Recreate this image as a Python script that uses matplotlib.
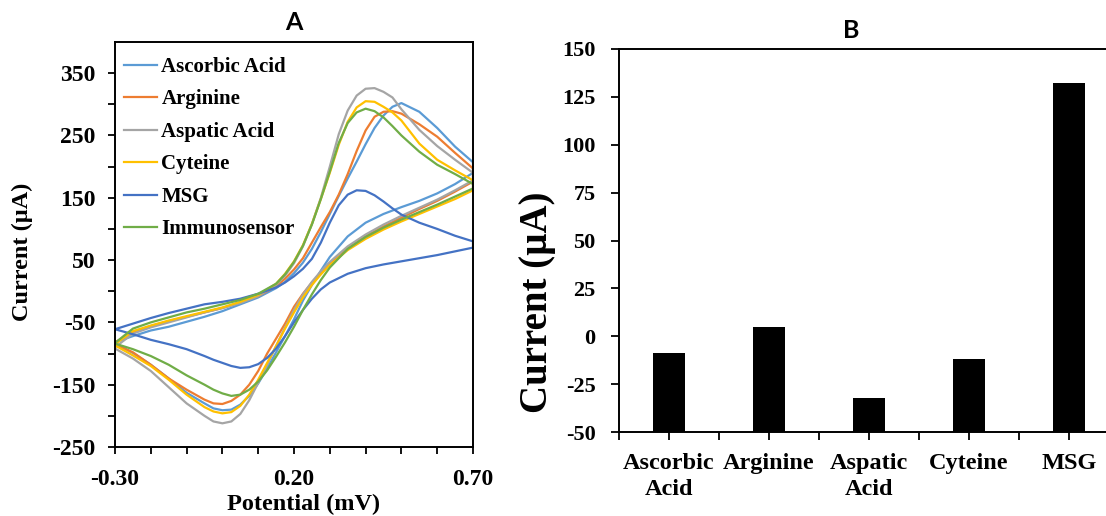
import matplotlib
matplotlib.use("Agg")
import matplotlib.pyplot as plt
from matplotlib.ticker import MultipleLocator, FixedLocator, FuncFormatter

plt.rcParams['font.family'] = ['Liberation Serif', 'DejaVu Serif']
plt.rcParams['font.weight'] = 'bold'
plt.rcParams['axes.unicode_minus'] = False

# potentials of the forward and reverse sweeps (V)
fwd_potential = [-0.30, -0.25, -0.20, -0.15, -0.10, -0.05, 0.00, 0.05, 0.10, 0.15,
                 0.175, 0.20, 0.225, 0.25, 0.275, 0.30, 0.325, 0.35, 0.375, 0.40,
                 0.425, 0.45, 0.475, 0.50, 0.55, 0.60, 0.65, 0.70]
rev_potential = [0.70, 0.65, 0.60, 0.55, 0.50, 0.45, 0.40, 0.35, 0.30, 0.275,
                 0.25, 0.225, 0.20, 0.175, 0.15, 0.125, 0.10, 0.075, 0.05, 0.025,
                 0.00, -0.025, -0.05, -0.10, -0.15, -0.20, -0.25, -0.30]

# currents (uA) for each interferent
ascorbic_fwd = [-82, -72, -63, -57, -49, -41, -32, -21, -10, 5, 15, 29, 46, 68, 95,
                124, 153, 181, 208, 236, 262, 282, 296, 302, 288, 262, 232, 207]
ascorbic_rev = [190, 172, 157, 145, 135, 124, 110, 88, 55, 33, 10, -15, -45, -72,
                -98, -124, -148, -168, -182, -190, -191, -188, -180, -163, -140,
                -118, -99, -84]
arginine_fwd = [-82, -66, -56, -48, -41, -34, -27, -18, -8, 8, 20, 35, 53, 78, 103,
                127, 155, 188, 225, 258, 280, 288, 289, 285, 268, 248, 222, 197]
arginine_rev = [176, 160, 145, 132, 118, 104, 88, 68, 44, 30, 14, -4, -25, -52, -76,
                -100, -128, -150, -166, -176, -181, -180, -174, -158, -140, -118,
                -98, -85]
aspartic_fwd = [-90, -68, -58, -50, -42, -34, -27, -19, -8, 10, 25, 45, 72, 108, 150,
                200, 252, 290, 314, 325, 326, 320, 311, 292, 259, 233, 211, 190]
aspartic_rev = [178, 162, 147, 134, 121, 107, 91, 72, 47, 32, 15, -5, -30, -58, -88,
                -118, -147, -175, -197, -209, -212, -209, -200, -180, -154, -128,
                -108, -92]
cysteine_fwd = [-85, -64, -55, -47, -40, -33, -26, -17, -6, 12, 28, 48, 74, 108, 148,
                190, 235, 272, 295, 305, 304, 296, 287, 274, 237, 211, 194, 178]
cysteine_rev = [162, 148, 136, 124, 112, 99, 84, 66, 42, 27, 10, -10, -34, -60, -88,
                -115, -142, -166, -184, -194, -196, -193, -186, -166, -142, -120,
                -103, -87]
msg_fwd = [-61, -52, -43, -35, -28, -21, -17, -12, -4, 6, 14, 24, 36, 52, 78, 110,
           138, 155, 162, 161, 154, 144, 133, 123, 110, 100, 89, 80]
msg_rev = [70, 64, 58, 53, 48, 43, 37, 28, 14, 3, -12, -30, -50, -72, -92, -107,
           -117, -122, -123, -120, -115, -110, -104, -93, -85, -78, -69, -61]
immuno_fwd = [-83, -60, -50, -42, -34, -28, -21, -14, -4, 12, 27, 47, 73, 107, 148,
              192, 238, 270, 287, 293, 289, 279, 265, 250, 224, 203, 188, 172]
immuno_rev = [165, 152, 139, 127, 115, 102, 87, 68, 38, 18, -5, -30, -57, -82, -105,
              -127, -145, -158, -166, -168, -164, -158, -150, -135, -118, -104, -93,
              -84]

cv_labels = ['Ascorbic Acid', 'Arginine', 'Aspatic Acid', 'Cyteine', 'MSG',
             'Immunosensor']
cv_colors = ['#5B9BD5', '#ED7D31', '#A5A5A5', '#FFC000', '#4472C4', '#70AD47']

# peak current change per interferent (uA)
analytes = ['Ascorbic\nAcid', 'Arginine', 'Aspatic\nAcid', 'Cyteine', 'MSG']
response = [-9, 5, -32, -12, 132]
bar_floor = -50  # bars rise from the bottom of the value axis

fig = plt.figure(figsize=(11.06, 5.16), dpi=100)

# ---- panel A: cyclic voltammograms ----
axA = fig.add_axes([115 / 1106, 69 / 516, 358 / 1106, 405 / 516])
sweeps = [(ascorbic_fwd, ascorbic_rev), (arginine_fwd, arginine_rev),
          (aspartic_fwd, aspartic_rev), (cysteine_fwd, cysteine_rev),
          (msg_fwd, msg_rev), (immuno_fwd, immuno_rev)]
potential = fwd_potential + rev_potential
for (fw, rv), lab, col in zip(sweeps, cv_labels, cv_colors):
    axA.plot(potential, fw + rv, color=col, lw=1.6, label=lab,
             solid_joinstyle='round')

axA.set_xlim(-0.30, 0.70)
axA.set_ylim(-250, 400)
axA.xaxis.set_major_locator(FixedLocator([-0.30, 0.20, 0.70]))
axA.xaxis.set_minor_locator(MultipleLocator(0.1))
axA.xaxis.set_major_formatter(FuncFormatter(lambda v, p: '{:.2f}'.format(v)))
axA.yaxis.set_major_locator(FixedLocator([-250, -150, -50, 50, 150, 250, 350]))
axA.yaxis.set_minor_locator(FixedLocator([-200, -100, 0, 100, 200, 300]))
axA.yaxis.set_major_formatter(FuncFormatter(lambda v, p: '{:d}'.format(int(v))))
axA.tick_params(which='both', direction='out', length=5, width=1.3,
                labelsize=17)
axA.tick_params(axis='y', pad=9)
axA.tick_params(axis='x', pad=11)
for sp in axA.spines.values():
    sp.set_linewidth(1.4)

axA.legend(loc='upper left', bbox_to_anchor=(0.025, 0.963), borderaxespad=0,
           frameon=False, fontsize=15, handlelength=1.6, handletextpad=0.2,
           labelspacing=0.6, borderpad=0)

fig.text(294 / 1106, 1 - 23 / 516, 'A', family='Lato', fontsize=18,
         fontweight='bold', ha='center', va='center')
fig.text(22 / 1106, 1 - 252 / 516, 'Current (µA)', fontsize=17.5,
         rotation=90, ha='center', va='center')
fig.text(304 / 1106, 1 - 504 / 516, 'Potential (mV)', fontsize=17.5,
         ha='center', va='center')

# ---- panel B: interference bars ----
axB = fig.add_axes([619 / 1106, 84 / 516, 500 / 1106, 383 / 516])
axB.bar(range(len(response)), [v - bar_floor for v in response], bottom=bar_floor,
        width=0.32, color='black')
axB.set_xlim(-0.5, 4.5)
axB.set_ylim(-50, 150)
axB.set_xticks(range(len(analytes)))
axB.set_xticklabels(analytes, fontsize=17.5, linespacing=1.3)
axB.xaxis.set_minor_locator(FixedLocator([-0.5, 0.5, 1.5, 2.5, 3.5, 4.5]))
axB.yaxis.set_major_locator(MultipleLocator(25))
axB.tick_params(which='both', direction='out', length=6, width=1.3)
axB.tick_params(axis='y', labelsize=16, pad=11)
axB.tick_params(axis='x', pad=9)
for sp in axB.spines.values():
    sp.set_linewidth(1.4)

fig.text(851 / 1106, 1 - 31 / 516, 'B', family='Lato', fontsize=18,
         fontweight='bold', ha='center', va='center')
fig.text(537 / 1106, 1 - 302 / 516, 'Current (µA)', fontsize=28,
         rotation=90, ha='center', va='center')

fig.savefig('out.png', dpi=100)
